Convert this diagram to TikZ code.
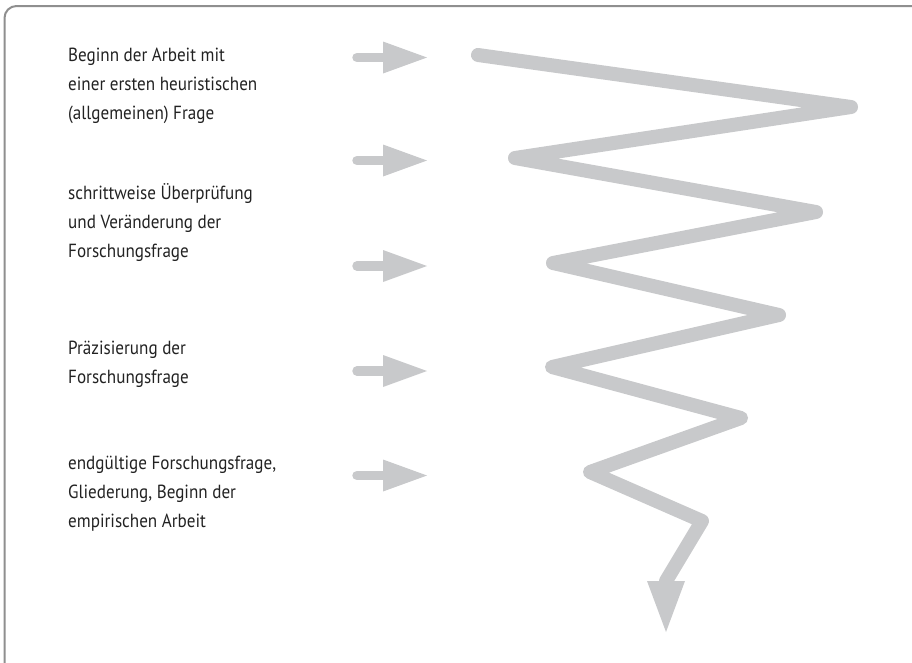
\documentclass[tikz,border=0pt]{standalone}
\usepackage{fontspec}
\usetikzlibrary{calc}
\setmainfont{PT Sans}[FakeStretch=0.9]
\definecolor{zig}{HTML}{C8C9CB}
\definecolor{framec}{HTML}{8F8F8F}
\definecolor{txt}{HTML}{222222}
\begin{document}
\begin{tikzpicture}[x=1pt,y=-1pt,
  zigline/.style={draw=zig,line width=14pt,line join=round,line cap=round},
  shaft/.style={draw=zig,line width=9.5pt,line cap=round},
  headfill/.style={fill=zig,draw=none},
  label/.style={anchor=west,align=left,inner sep=0pt,text=txt,font=\fontsize{19}{29}\selectfont}]
\useasboundingbox (0,0) rectangle (912,662);
% frame
\draw[framec,line width=2pt,rounded corners=12pt] (4.5,680) |- (930,6);
% labels
\node[label] (t1) at (68,86) {Beginn der Arbeit mit\\einer ersten heuristischen\\(allgemeinen) Frage};
\node[label] (t2) at (68,223) {schrittweise Überprüfung\\und Veränderung der\\Forschungsfrage};
\node[label] (t3) at (68,364.5) {Präzisierung der\\Forschungsfrage};
\node[label] (t4) at (68,494) {endgültige Forschungsfrage,\\Gliederung, Beginn der\\empirischen Arbeit};
% small arrows
\foreach \i/\y in {1/57.5,2/160.5,3/266,4/371,5/475.5}{
  \coordinate (a\i s) at (357,\y);
  \coordinate (a\i e) at (385,\y);
  \coordinate (a\i t) at (427,\y);
  \draw[shaft] (a\i s) -- (a\i e);
  \fill[zig] ($(a\i e)+(-2,-16)$) -- (a\i t) -- ($(a\i e)+(-2,16)$) -- cycle;
}
% zigzag
\coordinate (z0) at (478,55);
\coordinate (z1) at (851,107);
\coordinate (z2) at (515,158);
\coordinate (z3) at (816,212);
\coordinate (z4) at (553,263);
\coordinate (z5) at (779,315);
\coordinate (z6) at (552,367);
\coordinate (z7) at (741,418);
\coordinate (z8) at (590,472);
\coordinate (z9) at (702,521);
\coordinate (z10) at (666,581);
\coordinate (tip) at (666,632);
\draw[zigline] (z0) -- (z1) -- (z2) -- (z3) -- (z4) -- (z5) -- (z6) -- (z7) -- (z8) -- (z9) -- (z10);
\fill[zig] ($(z10)+(-19,0)$) -- ($(z10)+(19,0)$) -- (tip) -- cycle;
\end{tikzpicture}
\end{document}
